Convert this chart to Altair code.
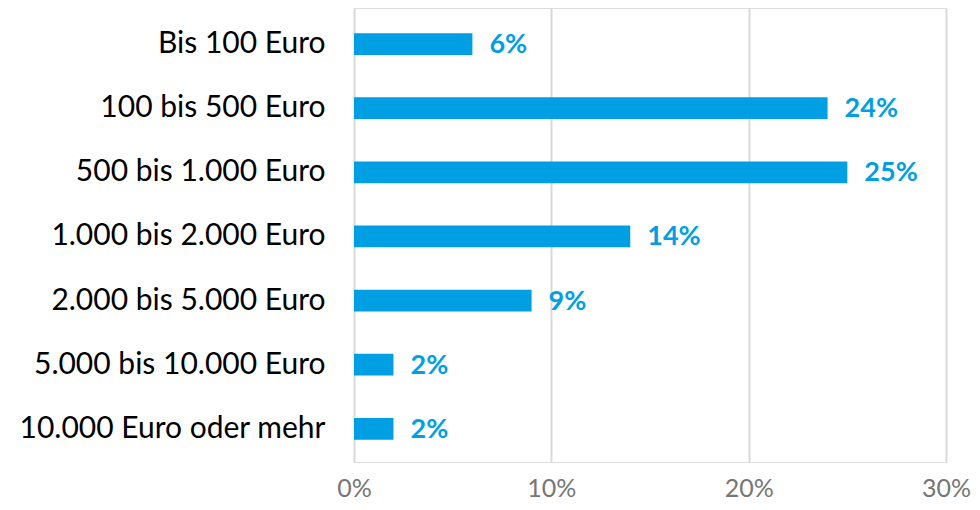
import altair as alt
import pandas as pd

categories = [
    "Bis 100 Euro",
    "100 bis 500 Euro",
    "500 bis 1.000 Euro",
    "1.000 bis 2.000 Euro",
    "2.000 bis 5.000 Euro",
    "5.000 bis 10.000 Euro",
    "10.000 Euro oder mehr",
]
values = [6, 24, 25, 14, 9, 2, 2]
x_ticks = [0, 10, 20, 30]

df = pd.DataFrame({"cat": categories, "val": values})
df["label"] = [f"{v}%" for v in values]

FONT = "Lato"
BLUE = "#009fe3"

y_enc = alt.Y(
    "cat:N",
    sort=categories,
    scale=alt.Scale(paddingInner=0.66, paddingOuter=0.37, align=0.53),
    axis=alt.Axis(
        title=None, ticks=False, domain=False, grid=False,
        labelFontSize=30, labelColor="#000000", labelFont=FONT,
        labelPadding=29, labelLimit=400,
    ),
)
x_enc = alt.X(
    "val:Q",
    scale=alt.Scale(domain=[0, 30], nice=False),
    axis=alt.Axis(
        title=None, values=x_ticks, ticks=False, domain=False,
        grid=True, gridColor="#d9d9d9", gridWidth=2,
        labelExpr="datum.value + '%'",
        labelFontSize=25, labelColor="#767676", labelFont=FONT,
        labelPadding=14, labelBaseline="top", labelFlush=False,
    ),
)

bars = alt.Chart(df).mark_bar(color=BLUE).encode(x=x_enc, y=y_enc)
text = alt.Chart(df).mark_text(
    align="left", baseline="middle", dx=17, dy=1,
    fontSize=27, fontWeight="bold", color=BLUE, font=FONT,
).encode(x="val:Q", y=alt.Y("cat:N", sort=categories), text="label:N")

chart = (
    alt.layer(bars, text)
    .properties(
        width=592, height=454,
        autosize=alt.AutoSizeParams(type="none"),
        padding={"left": 346, "top": 0, "right": 26, "bottom": 40},
    )
    .configure_view(stroke=None)
    .configure(font=FONT)
)

chart.save("out.html", embed_options={"renderer": "svg", "actions": False})
